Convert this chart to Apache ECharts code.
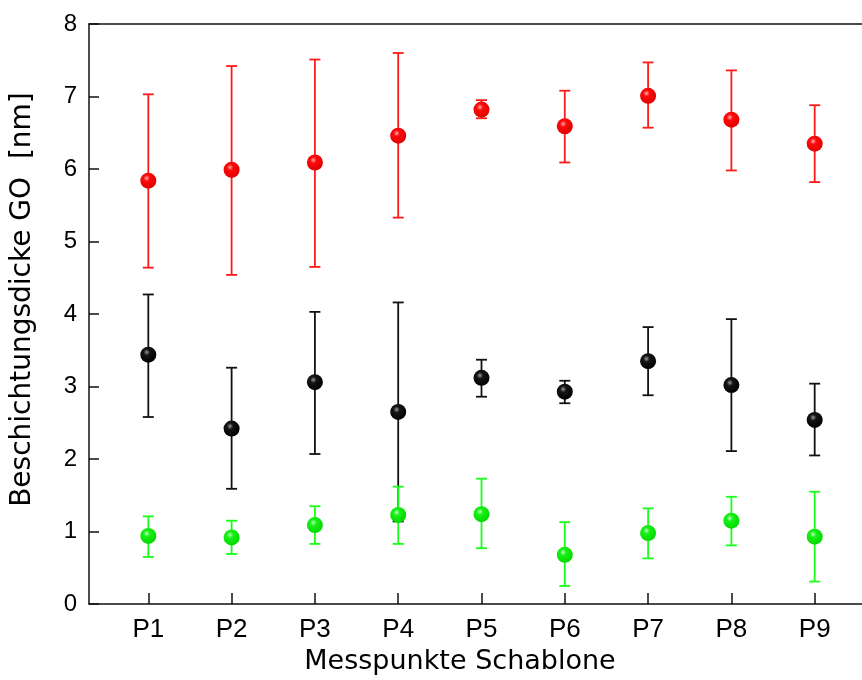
<!DOCTYPE html>
<html>
<head>
<meta charset="utf-8">
<script src="https://cdn.jsdelivr.net/npm/echarts@6/dist/echarts.min.js"></script>
<style>
  html, body { margin: 0; padding: 0; background: #fff; }
  #chart { width: 862px; height: 680px; }
</style>
</head>
<body>
<div id="chart"></div>
<script>
// Messpunkte P1..P9
var categories = ["P1", "P2", "P3", "P4", "P5", "P6", "P7", "P8", "P9"];
var yTicks = [0, 1, 2, 3, 4, 5, 6, 7, 8];

// red series
var redMean = [5.84, 5.99, 6.09, 6.46, 6.82, 6.59, 7.01, 6.68, 6.35];
var redHigh = [7.03, 7.42, 7.51, 7.60, 6.95, 7.08, 7.47, 7.36, 6.88];
var redLow  = [4.64, 4.54, 4.65, 5.33, 6.70, 6.09, 6.57, 5.98, 5.82];

// black series
var blackMean = [3.44, 2.42, 3.06, 2.65, 3.12, 2.93, 3.35, 3.02, 2.54];
var blackHigh = [4.27, 3.26, 4.03, 4.16, 3.37, 3.08, 3.82, 3.93, 3.04];
var blackLow  = [2.58, 1.59, 2.07, 1.14, 2.86, 2.77, 2.88, 2.11, 2.05];

// green series
var greenMean = [0.94, 0.92, 1.09, 1.23, 1.24, 0.68, 0.98, 1.15, 0.93];
var greenHigh = [1.21, 1.15, 1.35, 1.62, 1.73, 1.13, 1.32, 1.48, 1.55];
var greenLow  = [0.65, 0.69, 0.83, 0.83, 0.77, 0.25, 0.63, 0.81, 0.31];

var positions = categories.map(function (c, i) { return i + 1; });
var xMin = 0.288, xMax = 9.568;

function pointData(mean) {
  return mean.map(function (v, i) { return [positions[i], v]; });
}
function barData(low, high) {
  return low.map(function (v, i) { return [positions[i], v, high[i]]; });
}

function sphere(light, base, dark) {
  return {
    type: "radial", x: 0.4, y: 0.35, r: 0.65,
    colorStops: [
      { offset: 0, color: light },
      { offset: 0.3, color: base },
      { offset: 1, color: dark }
    ]
  };
}

function errorBar(color) {
  return function (params, api) {
    var x = api.value(0);
    var lo = api.coord([x, api.value(1)]);
    var hi = api.coord([x, api.value(2)]);
    var half = 5.5;
    var style = { stroke: color, lineWidth: 1.8 };
    return {
      type: "group",
      children: [
        { type: "line", shape: { x1: lo[0], y1: lo[1], x2: hi[0], y2: hi[1] }, style: style },
        { type: "line", shape: { x1: lo[0] - half, y1: lo[1], x2: lo[0] + half, y2: lo[1] }, style: style },
        { type: "line", shape: { x1: hi[0] - half, y1: hi[1], x2: hi[0] + half, y2: hi[1] }, style: style }
      ]
    };
  };
}

function makeSeries(mean, low, high, lineColor, fill) {
  return [
    {
      type: "custom",
      renderItem: errorBar(lineColor),
      encode: { x: 0, y: [1, 2] },
      data: barData(low, high),
      z: 2
    },
    {
      type: "scatter",
      symbol: "circle",
      symbolSize: 16,
      data: pointData(mean),
      itemStyle: { color: fill, opacity: 1 },
      z: 3
    }
  ];
}

var axisColor = "#111";
var chart = echarts.init(document.getElementById("chart"));
var option = {
  animation: false,
  backgroundColor: "#fff",
  grid: { left: 89, right: 0, top: 24, bottom: 74 },
  xAxis: [
    {
      type: "value",
      min: xMin,
      max: xMax,
      name: "Messpunkte Schablone",
      nameLocation: "middle",
      nameGap: 41,
      nameTextStyle: { fontFamily: "DejaVu Sans", fontSize: 27, color: "#000", padding: [0, 31, 0, 0] },
      axisLine: { show: true, lineStyle: { color: axisColor, width: 1.5 } },
      axisTick: { show: true, inside: true, length: 11, customValues: positions, lineStyle: { color: axisColor, width: 1.5 } },
      axisLabel: {
        customValues: positions,
        margin: 13,
        fontFamily: "Liberation Sans",
        fontSize: 26,
        color: "#000",
        formatter: function (v) { return categories[Math.round(v) - 1] || ""; }
      },
      splitLine: { show: false }
    },
    {
      // top frame line only
      type: "value",
      position: "top",
      min: xMin,
      max: xMax,
      axisLine: { show: true, onZero: false, lineStyle: { color: axisColor, width: 1.5 } },
      axisTick: { show: false },
      axisLabel: { show: false },
      splitLine: { show: false }
    }
  ],
  yAxis: {
    type: "value",
    min: yTicks[0],
    max: yTicks[yTicks.length - 1],
    interval: 1,
    name: "Beschichtungsdicke GO  [nm]",
    nameLocation: "middle",
    nameGap: 52,
    nameTextStyle: { fontFamily: "DejaVu Sans", fontSize: 28, color: "#000", padding: [0, 0, 0, 29] },
    axisLine: { show: true, lineStyle: { color: axisColor, width: 1.5 } },
    axisTick: { show: true, inside: true, length: 10, lineStyle: { color: axisColor, width: 1.5 } },
    axisLabel: { margin: 12, fontFamily: "Liberation Sans", fontSize: 24, color: "#000" },
    splitLine: { show: false }
  },
  series: []
    .concat(makeSeries(redMean, redLow, redHigh, "#ff1a1a", sphere("#ffb0b0", "#ff0a0a", "#e00000")))
    .concat(makeSeries(blackMean, blackLow, blackHigh, "#111", sphere("#9a9a9a", "#151515", "#000")))
    .concat(makeSeries(greenMean, greenLow, greenHigh, "#1aff1a", sphere("#c0ffc0", "#18f018", "#00d800")))
};
chart.setOption(option);
</script>
</body>
</html>
